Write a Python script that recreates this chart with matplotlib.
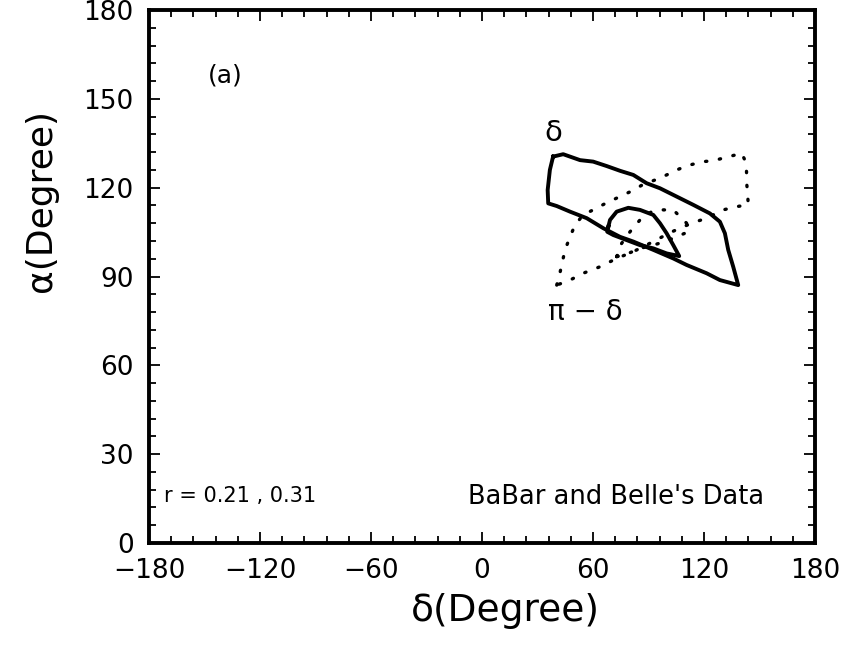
#!/usr/bin/env python3
"""
Allowed region in the (delta, alpha) plane from BaBar and Belle data, panel (a).
"""

import numpy as np
import matplotlib
matplotlib.use('Agg')
import matplotlib.pyplot as plt
from matplotlib.ticker import MultipleLocator

# Solid contour (delta branch), outer boundary
delta_outer_x = [38.5, 43.9, 53.0, 60.1, 67.4, 74.6, 81.8, 89.0, 96.2, 105.2,
                 114.2, 123.2, 128.6, 131.3, 133.1, 135.8, 138.5,
                 128.6, 121.4, 110.6, 103.4, 92.6, 81.8, 74.6, 65.6, 56.6,
                 47.6, 40.4, 35.8, 35.5, 36.7, 38.2, 38.5]
delta_outer_y = [130.5, 131.3, 129.3, 128.8, 127.3, 125.7, 124.3, 121.5, 119.8, 117.0,
                 114.2, 111.3, 108.5, 104.6, 99.0, 93.3, 87.1,
                 88.8, 91.1, 93.9, 96.1, 99.0, 101.8, 103.4, 106.3, 109.7,
                 111.9, 113.8, 114.7, 119.2, 126.0, 129.9, 130.5]

# Solid contour, inner boundary
delta_inner_x = [68.3, 69.2, 72.8, 79.1, 85.4, 92.6, 96.2, 99.8, 103.4, 106.6,
                 99.8, 92.6, 85.4, 78.2, 71.0, 67.7, 68.3]
delta_inner_y = [106.8, 109.1, 111.9, 113.2, 112.5, 110.8, 108.0, 104.6, 100.6, 96.9,
                 97.8, 99.5, 100.6, 102.3, 104.0, 105.1, 106.8]

# Dotted contour (pi - delta branch), outer boundary
pimd_outer_x = [40.4, 42.1, 44.9, 47.6, 50.3, 54.7, 60.1, 67.4, 74.6, 80.0,
                87.2, 94.4, 99.8, 105.2, 112.6, 119.6, 125.0, 132.3, 140.4,
                142.1, 143.0, 143.0, 143.6, 143.9,
                137.6, 130.4, 121.4, 114.2, 108.8, 101.6, 92.6, 81.8, 72.8,
                63.8, 54.7, 47.6, 40.4]
pimd_outer_y = [87.1, 91.1, 99.0, 103.4, 107.4, 110.8, 112.5, 114.9, 117.0, 118.6,
                121.1, 122.8, 124.3, 126.0, 127.7, 128.8, 129.1, 130.3, 131.6,
                129.3, 125.4, 122.0, 118.1, 114.2,
                113.6, 112.5, 109.7, 108.2, 106.8, 104.8, 101.8, 98.4, 96.1,
                93.3, 91.1, 88.8, 87.1]

# Dotted contour, inner boundary
pimd_inner_x = [72.8, 75.5, 80.0, 85.4, 91.7, 97.1, 103.4, 110.6, 111.5,
                105.2, 98.9, 92.6, 85.4, 79.1, 72.8]
pimd_inner_y = [96.7, 101.2, 105.1, 109.1, 111.9, 112.5, 112.5, 108.0, 105.1,
                103.4, 101.8, 100.6, 99.5, 97.8, 96.7]

x_ticks = [-180, -120, -60, 0, 60, 120, 180]
y_ticks = [0, 30, 60, 90, 120, 150, 180]


def main():
    plt.rcParams['font.family'] = ['DejaVu Sans']

    fig = plt.figure(figsize=(8.47, 6.49), dpi=100)
    ax = fig.add_axes([0.1759, 0.1633, 0.7863, 0.8213])

    ax.plot(delta_outer_x, delta_outer_y, color='black', lw=2.8, solid_joinstyle='round')
    ax.plot(delta_inner_x, delta_inner_y, color='black', lw=2.8, solid_joinstyle='round')
    dots = (0, (0.4, 3.8))
    ax.plot(pimd_outer_x, pimd_outer_y, color='black', lw=2.4,
            linestyle=dots, dash_capstyle='round')
    ax.plot(pimd_inner_x, pimd_inner_y, color='black', lw=2.4,
            linestyle=dots, dash_capstyle='round')

    ax.set_xlim(-180, 180)
    ax.set_ylim(0, 180)
    ax.set_xticks(x_ticks)
    ax.set_yticks(y_ticks)
    ax.xaxis.set_minor_locator(MultipleLocator(12))
    ax.yaxis.set_minor_locator(MultipleLocator(6))
    ax.tick_params(which='both', direction='in', top=True, right=True,
                   labelsize=19, width=1.3, pad=11)
    ax.tick_params(which='major', length=8)
    ax.tick_params(which='minor', length=5)
    for sp in ax.spines.values():
        sp.set_linewidth(2.8)

    ax.set_xlabel('δ(Degree)', fontsize=27)
    ax.xaxis.label.set_va('center')
    ax.xaxis.set_label_coords(0.535, -0.127)
    ax.set_ylabel('α(Degree)', fontsize=26)
    ax.yaxis.label.set_va('center')
    ax.yaxis.set_label_coords(-0.162, 0.643)

    ax.text(-139, 158, '(a)', fontsize=18, ha='center', va='center')
    ax.text(38.5, 138.5, 'δ', fontsize=21, ha='center', va='center')
    ax.text(56, 78, 'π − δ', fontsize=20, ha='center', va='center')
    ax.text(-172, 16, 'r = 0.21 , 0.31', fontsize=15, ha='left', va='center')
    ax.text(-7.5, 15.5, "BaBar and Belle's Data", fontsize=18.5, ha='left', va='center')

    fig.savefig('out.png', dpi=100)


if __name__ == '__main__':
    main()
